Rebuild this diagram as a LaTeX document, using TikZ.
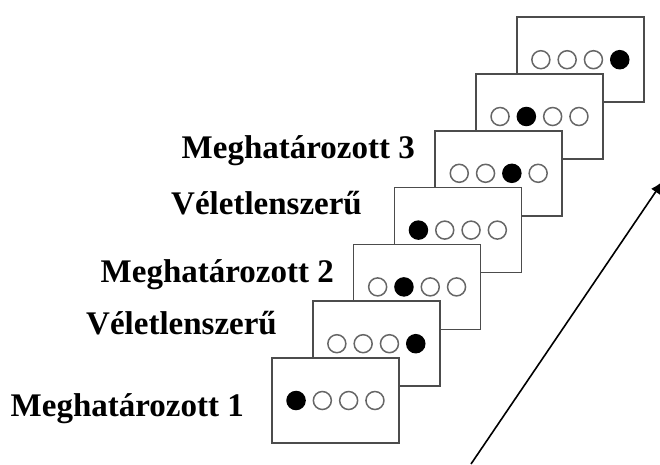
\documentclass[tikz,border=0pt]{standalone}
\usepackage{fontspec}
\setmainfont{Liberation Serif}
\usetikzlibrary{arrows.meta}

\begin{document}
\begin{tikzpicture}[x=1pt,y=-1pt,
  screen/.style={draw=black!70,line width=1.7pt,fill=white,minimum width=127pt,minimum height=85pt,inner sep=0pt},
  dot/.style={circle,draw=black!60,line width=1.5pt,fill=white,minimum size=18pt,inner sep=0pt},
  target/.style={dot,draw=black,fill=black},
  cond/.style={font=\bfseries\fontsize{33}{36}\selectfont,anchor=base east,inner sep=0pt}]
  \useasboundingbox (0,0) rectangle (660,464);
  % screens, last one first so the earlier ones lie on top
  \foreach \k/\t in {6/4,5/2,4/3,3/1,2/2,1/4,0/1} {
    \node[screen] (s\k) at (335.5+40.8*\k,400.5-56.8*\k) {};
    \foreach \i in {1,...,4} {
      \ifnum\i=\t \def\kind{target}\else\def\kind{dot}\fi
      \node[\kind] (s\k-\i) at ([xshift=-65.75pt+26.3pt*\i]s\k.center) {};
    }
  }
  % conditions
  \node[cond] (l1) at (244,416) {Meghatározott 1};
  \node[cond] (l2) at (277,334) {Véletlenszerű};
  \node[cond] (l3) at (334,282) {Meghatározott 2};
  \node[cond] (l4) at (362,214) {Véletlenszerű};
  \node[cond] (l5) at (415,158) {Meghatározott 3};
  % time axis
  \coordinate (t0) at (471,464);
  \coordinate (t1) at (663,181);
  \draw[line width=1.6pt,-{Latex[length=13pt,width=11pt]}] (t0) -- (t1);
\end{tikzpicture}
\end{document}
